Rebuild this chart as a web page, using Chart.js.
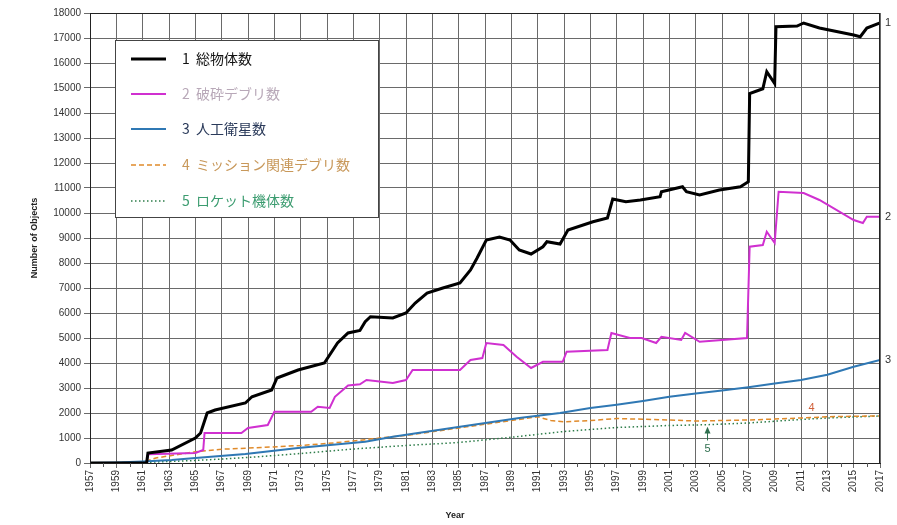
<!DOCTYPE html>
<html>
<head>
<meta charset="utf-8">
<script src="https://cdn.jsdelivr.net/npm/chart.js@4/dist/chart.umd.min.js"></script>
<style>
  html, body { margin: 0; padding: 0; background: #ffffff; }
  #wrap { width: 897px; height: 525px; }
</style>
</head>
<body>
<div id="wrap"><canvas id="c" width="897" height="525"></canvas></div>
<script>
// Tracked objects in Earth orbit by type (yearly catalogue counts)
const seriesNames = ['1  総物体数', '2  破砕デブリ数', '3  人工衛星数', '4  ミッション関連デブリ数', '5  ロケット機体数'];

const totalYears = [1957, 1961.3, 1961.4, 1963.2, 1965.0, 1965.4, 1965.9, 1966.5, 1968.8, 1969.3, 1970.8, 1971.2, 1972.8, 1974.8, 1975.8, 1976.6, 1977.5, 1977.9, 1978.3, 1980.0, 1981.0, 1981.7, 1982.6, 1983.8, 1985.1, 1985.9, 1986.4, 1987.1, 1988.1, 1988.9, 1989.6, 1990.5, 1991.4, 1991.7, 1992.7, 1993.3, 1995.2, 1996.3, 1996.7, 1997.7, 1998.8, 2000.3, 2000.4, 2002.0, 2002.3, 2003.3, 2004.8, 2006.4, 2007.0, 2007.1, 2008.1, 2008.4, 2009.0, 2009.1, 2010.7, 2011.2, 2012.4, 2015.0, 2015.5, 2016.0, 2017];
const totalCounts = [0, 0, 400, 520, 1000, 1200, 2000, 2120, 2400, 2650, 2920, 3400, 3720, 4000, 4800, 5200, 5300, 5650, 5850, 5800, 6000, 6400, 6800, 7000, 7200, 7720, 8200, 8920, 9040, 8920, 8520, 8360, 8650, 8850, 8760, 9320, 9650, 9800, 10560, 10450, 10520, 10650, 10850, 11050, 10850, 10720, 10920, 11050, 11250, 14780, 14970, 15650, 15180, 17450, 17480, 17600, 17400, 17120, 17050, 17400, 17600];

const fragYears = [1957, 1961.3, 1961.4, 1965.0, 1965.6, 1965.7, 1966.7, 1968.5, 1969.0, 1970.5, 1971.0, 1973.8, 1974.3, 1975.2, 1975.6, 1976.6, 1977.5, 1978.0, 1980.0, 1981.0, 1981.5, 1985.1, 1985.9, 1986.8, 1987.1, 1988.4, 1989.4, 1990.5, 1991.4, 1992.9, 1993.2, 1996.3, 1996.6, 1998.0, 1998.9, 2000.0, 2000.4, 2001.9, 2002.2, 2003.3, 2006.9, 2007.1, 2008.1, 2008.4, 2009.0, 2009.3, 2011.2, 2012.4, 2015.0, 2015.7, 2016.0, 2017];
const fragCounts = [0, 0, 350, 400, 520, 1200, 1200, 1200, 1400, 1520, 2050, 2050, 2250, 2200, 2650, 3100, 3150, 3320, 3200, 3320, 3720, 3720, 4120, 4200, 4800, 4720, 4250, 3800, 4050, 4050, 4450, 4520, 5200, 5000, 5000, 4800, 5050, 4920, 5200, 4850, 5000, 8650, 8720, 9250, 8800, 10850, 10800, 10520, 9720, 9600, 9850, 9850];

const craftYears = [1957, 1959, 1961, 1963.2, 1965, 1968.8, 1972.8, 1977.9, 1980, 1985.1, 1989.6, 1992.7, 1995, 1997, 1999, 2001, 2003, 2005, 2007, 2009, 2011, 2013, 2015, 2017];
const craftCounts = [0, 20, 60, 120, 200, 360, 600, 850, 1050, 1450, 1800, 2000, 2200, 2330, 2480, 2650, 2780, 2900, 3030, 3180, 3320, 3530, 3850, 4120];

const missionYears = [1957, 1961, 1962, 1965, 1967, 1970, 1973, 1975, 1977, 1979, 1981, 1983, 1985, 1987, 1989, 1991, 1992, 1993, 1995, 1997, 1999, 2001, 2003, 2005, 2007, 2009, 2011, 2013, 2015, 2017];
const missionCounts = [0, 30, 200, 450, 550, 620, 700, 780, 880, 1000, 1100, 1250, 1400, 1550, 1700, 1850, 1700, 1650, 1700, 1780, 1750, 1720, 1680, 1700, 1720, 1760, 1800, 1850, 1870, 1880];

const rocketYears = [1957, 1961, 1965, 1969, 1973, 1977, 1981, 1985, 1989, 1993, 1997, 2001, 2003.8, 2007, 2010.4, 2013, 2017];
const rocketCounts = [0, 20, 100, 220, 380, 560, 700, 820, 1030, 1260, 1420, 1500, 1530, 1600, 1720, 1800, 1880];

const xTickYears = [1957, 1959, 1961, 1963, 1965, 1967, 1969, 1971, 1973, 1975, 1977, 1979, 1981, 1983, 1985, 1987, 1989, 1991, 1993, 1995, 1997, 1999, 2001, 2003, 2005, 2007, 2009, 2011, 2013, 2015, 2017];

const toPoints = (xs, ys) => xs.map((x, i) => ({ x: x, y: ys[i] }));

// Axis titles, plot frame, minor ticks, legend box and end markers
const decorations = {
  id: 'decorations',
  afterDatasetsDraw(chart) {
    const ctx = chart.ctx;
    const area = chart.chartArea;
    const xs = chart.scales.x, ys = chart.scales.y;
    ctx.save();

    // frame
    ctx.strokeStyle = '#222';
    ctx.lineWidth = 1;
    ctx.strokeRect(area.left + 0.5, area.top + 0.5, area.right - area.left - 1, area.bottom - area.top);

    // minor ticks at even years
    ctx.strokeStyle = '#555';
    for (let yr = 1958; yr <= 2016; yr += 2) {
      const px = Math.round(xs.getPixelForValue(yr)) + 0.5;
      ctx.beginPath();
      ctx.moveTo(px, area.bottom);
      ctx.lineTo(px, area.bottom + 4);
      ctx.stroke();
    }

    // axis titles
    ctx.fillStyle = '#222';
    ctx.font = 'bold 9px "Liberation Sans", Arial, sans-serif';
    ctx.textAlign = 'center';
    ctx.textBaseline = 'middle';
    ctx.fillText('Year', 455, 516);
    ctx.save();
    ctx.translate(35, 238);
    ctx.rotate(-Math.PI / 2);
    ctx.fillText('Number of Objects', 0, 0);
    ctx.restore();

    // legend
    const bx = 115, by = 40, bw = 263, bh = 177;
    ctx.fillStyle = '#ffffff';
    ctx.fillRect(bx, by, bw, bh);
    ctx.strokeStyle = '#444';
    ctx.lineWidth = 1;
    ctx.strokeRect(bx + 0.5, by + 0.5, bw, bh);
    const rows = [59, 94, 129, 165, 201];
    const textColors = ['#111111', '#b8a8b8', '#2a3a5a', '#c8985a', '#3c9c70'];
    chart.data.datasets.forEach((ds, i) => {
      const yy = rows[i];
      ctx.save();
      ctx.strokeStyle = ds.borderColor;
      ctx.lineWidth = ds.borderWidth;
      ctx.setLineDash(ds.borderDash || []);
      ctx.beginPath();
      ctx.moveTo(131, yy);
      ctx.lineTo(166, yy);
      ctx.stroke();
      ctx.restore();
      ctx.fillStyle = textColors[i];
      ctx.font = '14px "Noto Sans CJK JP", sans-serif';
      ctx.textAlign = 'left';
      ctx.textBaseline = 'middle';
      ctx.fillText(ds.label, 182, yy);
    });

    // series numbers at the right end
    ctx.font = '11px "Liberation Sans", Arial, sans-serif';
    ctx.textAlign = 'left';
    ctx.textBaseline = 'middle';
    ctx.fillStyle = '#333';
    ctx.fillText('1', 885, ys.getPixelForValue(totalCounts[totalCounts.length - 1]));
    ctx.fillText('2', 885, ys.getPixelForValue(fragCounts[fragCounts.length - 1]));
    ctx.fillText('3', 885, ys.getPixelForValue(craftCounts[craftCounts.length - 1]));

    // "4" and "5" markers
    ctx.textAlign = 'center';
    ctx.fillStyle = '#d0603a';
    ctx.fillText('4', xs.getPixelForValue(2011.8), ys.getPixelForValue(2200));
    const ax = xs.getPixelForValue(2003.9);
    ctx.strokeStyle = '#2f6f4f';
    ctx.fillStyle = '#2f6f4f';
    ctx.lineWidth = 1;
    ctx.beginPath();
    ctx.moveTo(ax, ys.getPixelForValue(900));
    ctx.lineTo(ax, ys.getPixelForValue(1380));
    ctx.stroke();
    ctx.beginPath();
    ctx.moveTo(ax, ys.getPixelForValue(1450));
    ctx.lineTo(ax - 3, ys.getPixelForValue(1180));
    ctx.lineTo(ax + 3, ys.getPixelForValue(1180));
    ctx.closePath();
    ctx.fill();
    ctx.fillText('5', ax, ys.getPixelForValue(560));

    ctx.restore();
  }
};

new Chart(document.getElementById('c'), {
  type: 'line',
  data: {
    datasets: [
      { label: seriesNames[0], data: toPoints(totalYears, totalCounts), borderColor: '#000000', borderWidth: 3 },
      { label: seriesNames[1], data: toPoints(fragYears, fragCounts), borderColor: '#d030d0', borderWidth: 2 },
      { label: seriesNames[2], data: toPoints(craftYears, craftCounts), borderColor: '#2f78b4', borderWidth: 2 },
      { label: seriesNames[3], data: toPoints(missionYears, missionCounts), borderColor: '#e08a2a', borderWidth: 1.5, borderDash: [5, 3] },
      { label: seriesNames[4], data: toPoints(rocketYears, rocketCounts), borderColor: '#2e7d4a', borderWidth: 1.5, borderDash: [1.5, 2.5] }
    ]
  },
  options: {
    responsive: false,
    animation: false,
    devicePixelRatio: 1,
    layout: { padding: { top: 13, right: 17, left: 0, bottom: 0 } },
    elements: { point: { radius: 0 }, line: { tension: 0, fill: false } },
    plugins: { legend: { display: false }, tooltip: { enabled: false } },
    scales: {
      x: {
        type: 'linear',
        min: 1957,
        max: 2017,
        afterBuildTicks: (scale) => { scale.ticks = xTickYears.map(v => ({ value: v })); },
        afterFit: (scale) => { scale.height = 62; },
        ticks: {
          autoSkip: false,
          maxRotation: 90,
          minRotation: 90,
          padding: 2,
          color: '#333',
          font: { size: 10, family: '"Liberation Sans", Arial, sans-serif' },
          callback: (v) => String(v)
        },
        grid: { color: '#6a6a6a', lineWidth: 1, tickLength: 5 },
        border: { color: '#222' }
      },
      y: {
        min: 0,
        max: 18000,
        afterFit: (scale) => { scale.width = 90; },
        ticks: {
          stepSize: 1000,
          padding: 3,
          color: '#333',
          font: { size: 10, family: '"Liberation Sans", Arial, sans-serif' },
          callback: (v) => String(v)
        },
        grid: { color: '#6a6a6a', lineWidth: 1, tickLength: 6 },
        border: { color: '#222' }
      }
    }
  },
  plugins: [decorations]
});
</script>
</body>
</html>
